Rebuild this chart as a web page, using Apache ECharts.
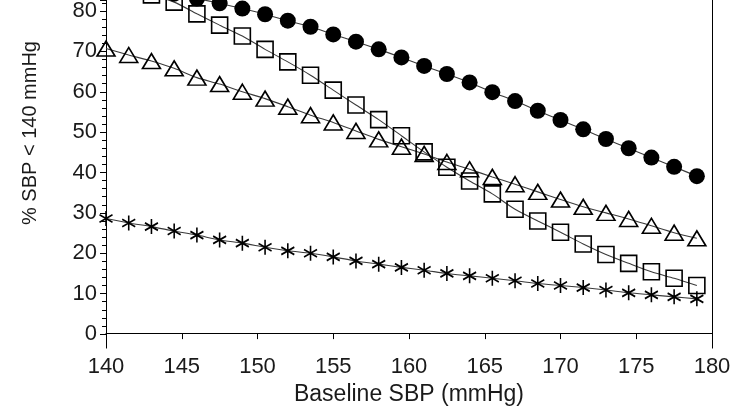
<!DOCTYPE html>
<html>
<head>
<meta charset="utf-8">
<script src="https://cdn.jsdelivr.net/npm/echarts@6/dist/echarts.min.js"></script>
<style>
html,body{margin:0;padding:0;background:#fff;}
#chart{width:743px;height:411px;}
</style>
</head>
<body>
<div id="chart"></div>
<script>
// Baseline SBP (mmHg)
var xValues = [140, 141.5, 143, 144.5, 146, 147.5, 149, 150.5, 152, 153.5, 155, 156.5, 158, 159.5, 161, 162.5, 164, 165.5, 167, 168.5, 170, 171.5, 173, 174.5, 176, 177.5, 179];
var circleSeries = [87.7, 86.6, 85.5, 84.3, 83.1, 81.9, 80.6, 79.2, 77.6, 76.1, 74.2, 72.4, 70.5, 68.5, 66.4, 64.4, 62.3, 59.9, 57.7, 55.3, 53.0, 50.7, 48.3, 46.0, 43.7, 41.4, 39.1];
var squareSeries = [86.8, 85.5, 84.0, 82.2, 79.3, 76.5, 73.8, 70.5, 67.4, 64.1, 60.4, 56.7, 53.1, 49.1, 45.1, 41.3, 37.9, 34.7, 30.9, 28.0, 25.2, 22.3, 19.7, 17.5, 15.4, 13.8, 12.0];
var triangleSeries = [70.7, 69.1, 67.6, 65.8, 63.5, 61.9, 60.0, 58.3, 56.3, 54.2, 52.4, 50.3, 48.2, 46.4, 44.6, 42.6, 40.8, 38.9, 37.1, 35.2, 33.3, 31.5, 30.0, 28.5, 26.8, 25.1, 23.7];
var starSeries = [28.6, 27.5, 26.6, 25.5, 24.5, 23.3, 22.5, 21.5, 20.6, 20.0, 19.1, 18.1, 17.3, 16.5, 15.8, 15.0, 14.4, 13.8, 13.2, 12.5, 12.0, 11.5, 10.9, 10.2, 9.7, 9.2, 8.7];
var xTicks = [140, 145, 150, 155, 160, 165, 170, 175, 180];
var yTicks = [0, 10, 20, 30, 40, 50, 60, 70, 80];
var xName = 'Baseline SBP (mmHg)';
var yName = '% SBP < 140 mmHg';

function pairs(vals) {
  return xValues.map(function (x, i) { return [x, vals[i]]; });
}

var FONT = 'Liberation Sans, Arial, Helvetica, sans-serif';
var TXT = '#1a1a1a';
var LINE = '#3a3a3a';

function mkSeries(name, vals, symbol, size, filled, bw) {
  return {
    name: name,
    type: 'line',
    xAxisIndex: 1,
    yAxisIndex: 1,
    data: pairs(vals),
    smooth: 0.25,
    symbol: symbol,
    symbolSize: size,
    showSymbol: true,
    showAllSymbol: true,
    clip: false,
    lineStyle: { color: LINE, width: 1.1 },
    itemStyle: {
      color: filled ? '#000' : 'rgba(0,0,0,0)',
      borderColor: '#000',
      borderWidth: filled ? 0 : bw
    },
    emphasis: { disabled: true },
    z: 3
  };
}

var chart = echarts.init(document.getElementById('chart'), null, { renderer: 'canvas' });
chart.setOption({
  animation: false,
  backgroundColor: '#fff',
  grid: [
    { left: 106, right: 31, top: 0, bottom: 62 },
    { left: 106, right: 31, top: 0, bottom: 77 },
    { left: 106, right: 31, top: 0, bottom: 145 }
  ],
  xAxis: [
    {
      type: 'value', gridIndex: 0, min: xTicks[0], max: xTicks[xTicks.length - 1], interval: 5,
      name: xName, nameLocation: 'middle', nameGap: 33,
      nameTextStyle: { fontFamily: FONT, fontSize: 23, color: TXT },
      axisLine: { show: true, lineStyle: { color: '#000', width: 1 } },
      axisTick: { show: true, inside: false, length: 6, lineStyle: { color: '#000' } },
      axisLabel: { fontFamily: FONT, fontSize: 22, color: TXT, margin: 8 },
      splitLine: { show: false }
    },
    {
      type: 'value', gridIndex: 1, min: xTicks[0], max: xTicks[xTicks.length - 1], show: false
    },
    {
      type: 'value', gridIndex: 2, min: xTicks[0], max: xTicks[xTicks.length - 1], show: false
    }
  ],
  yAxis: [
    {
      type: 'value', gridIndex: 0, min: -3.72, max: 82.67,
      axisLine: { show: true, lineStyle: { color: '#000', width: 1 } },
      axisTick: { show: false },
      axisLabel: { show: false },
      splitLine: { show: false }
    },
    {
      type: 'value', gridIndex: 1, min: yTicks[0], max: 82.67, interval: 10,
      axisLine: { show: false },
      axisTick: { show: true, inside: false, length: 6, lineStyle: { color: '#000' } },
      minorTick: { show: true, splitNumber: 5, length: 4, lineStyle: { color: '#000' } },
      axisLabel: {
        fontFamily: FONT, fontSize: 22, color: TXT, margin: 9,
        formatter: function (v) { return yTicks.indexOf(v) >= 0 ? String(v) : ''; }
      },
      splitLine: { show: false }
    },
    {
      type: 'value', gridIndex: 2, min: 0, max: 1,
      name: yName, nameLocation: 'middle', nameGap: 66, nameRotate: 90,
      nameTextStyle: { fontFamily: FONT, fontSize: 20, color: TXT },
      axisLine: { show: false },
      axisTick: { show: false },
      axisLabel: { show: false },
      splitLine: { show: false }
    },
    {
      type: 'value', gridIndex: 0, position: 'right', min: -3.72, max: 82.67,
      axisLine: { show: true, onZero: false, lineStyle: { color: '#000', width: 1 } },
      axisTick: { show: false },
      axisLabel: { show: false },
      splitLine: { show: false }
    }
  ],
  series: [
    mkSeries('circle', circleSeries, 'circle', 16, true, 0),
    mkSeries('square', squareSeries, 'rect', 16, false, 1.6),
    mkSeries('triangle', triangleSeries, 'triangle', [18, 15], false, 1.6),
    mkSeries('star', starSeries, 'path://M0,-6L0,6M-5.2,-3L5.2,3M-5.2,3L5.2,-3', [13, 15], false, 1.7)
  ]
});
</script>
</body>
</html>
